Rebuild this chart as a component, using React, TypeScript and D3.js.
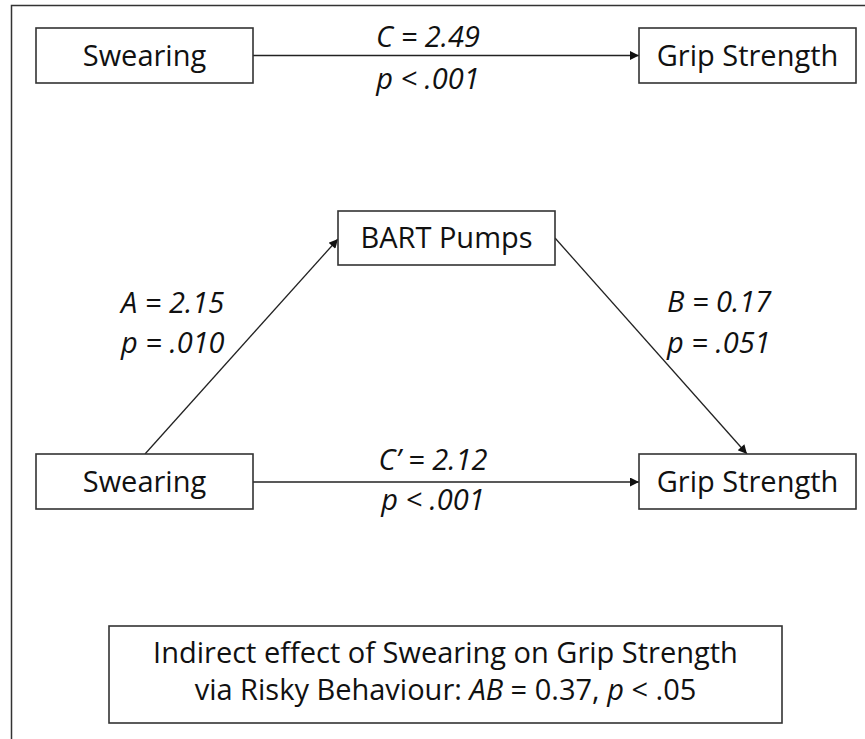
import React from "react";
import * as d3 from "d3";

// ---- data ----
const nodeNames = ["Swearing", "Grip Strength", "BART Pumps"];
const pathNames = ["C", "A", "B", "C\u2019"];
const pathCoefs = [2.49, 2.15, 0.17, 2.12];
const pathPValues = ["< .001", "= .010", "= .051", "< .001"];
const indirectText = ["Indirect effect of Swearing on Grip Strength", "via Risky Behaviour: "];
const indirectCoef = 0.37;
const indirectP = "< .05";

// ---- layout ----
const W = 865;
const H = 739;
const FONT = "'Open Sans', 'DejaVu Sans', sans-serif";
const FS = 29;
const CAP = 10; // half cap height offset

type Box = { x0: number; x1: number; y0: number; y1: number; name: number };
const boxes: Box[] = [
  { x0: 36, x1: 253, y0: 28, y1: 83, name: 0 },
  { x0: 639, x1: 856, y0: 28, y1: 83, name: 1 },
  { x0: 338, x1: 555, y0: 211, y1: 265, name: 2 },
  { x0: 36, x1: 253, y0: 454, y1: 509, name: 0 },
  { x0: 639, x1: 856, y0: 454, y1: 509, name: 1 },
];
const edges = [
  { p: 0, from: [253, 55.5], to: [639, 55.5] },
  { p: 1, from: [145, 454], to: [338, 239] },
  { p: 2, from: [555, 238], to: [747, 454] },
  { p: 3, from: [253, 482], to: [639, 482] },
];
const labels = [
  { p: 0, x: 428, y1: 47, y2: 89, anchor: "middle" },
  { p: 1, x: 121, y1: 313, y2: 353, anchor: "start" },
  { p: 2, x: 667, y1: 312, y2: 353, anchor: "start" },
  { p: 3, x: 433, y1: 470, y2: 510, anchor: "middle" },
];
const note = { x0: 109, x1: 782, y0: 626, y1: 723, y1t: 663, y2t: 700 };

const fmt = d3.format(".2f");
const line = d3.line();

export default function App() {
  return (
    <svg
      width={W}
      height={H}
      viewBox={`0 0 ${W} ${H}`}
      style={{ position: "absolute", left: 0, top: 0, background: "#fff" }}
      fontFamily={FONT}
    >
      <defs>
        <marker
          id="arrow"
          viewBox="0 0 10 10"
          refX={10}
          refY={5}
          markerWidth={11}
          markerHeight={9}
          markerUnits="userSpaceOnUse"
          orient="auto"
        >
          <path d="M0,0 L10,5 L0,10 Z" fill="#111" />
        </marker>
      </defs>
      <rect x={0} y={0} width={W} height={H} fill="#fff" />
      {/* outer frame */}
      <path
        d={line([[W + 2, 5.5], [11.5, 5.5], [11.5, H + 2]]) || ""}
        fill="none"
        stroke="#333"
        strokeWidth={1.5}
      />
      {edges.map((e, i) => (
        <path
          key={i}
          d={line([e.from as [number, number], e.to as [number, number]]) || ""}
          stroke="#222"
          strokeWidth={1.3}
          fill="none"
          markerEnd="url(#arrow)"
        />
      ))}
      {boxes.map((b, i) => (
        <g key={i}>
          <rect
            x={b.x0}
            y={b.y0}
            width={b.x1 - b.x0}
            height={b.y1 - b.y0}
            fill="#fff"
            stroke="#333"
            strokeWidth={1.6}
          />
          <text
            x={(b.x0 + b.x1) / 2}
            y={(b.y0 + b.y1) / 2 + CAP}
            textAnchor="middle"
            fontSize={FS}
            fill="#111"
          >
            {nodeNames[b.name]}
          </text>
        </g>
      ))}
      {labels.map((l, i) => (
        <g key={i} fontStyle="italic" fontSize={FS} fill="#111">
          <text x={l.x} y={l.y1} textAnchor={l.anchor as any}>
            {`${pathNames[l.p]} = ${fmt(pathCoefs[l.p])}`}
          </text>
          <text x={l.x} y={l.y2} textAnchor={l.anchor as any}>
            {`p ${pathPValues[l.p]}`}
          </text>
        </g>
      ))}
      <rect
        x={note.x0}
        y={note.y0}
        width={note.x1 - note.x0}
        height={note.y1 - note.y0}
        fill="#fff"
        stroke="#333"
        strokeWidth={1.6}
      />
      <text
        x={(note.x0 + note.x1) / 2}
        y={note.y1t}
        textAnchor="middle"
        fontSize={FS}
        fill="#111"
      >
        {indirectText[0]}
      </text>
      <text
        x={(note.x0 + note.x1) / 2}
        y={note.y2t}
        textAnchor="middle"
        fontSize={FS}
        fill="#111"
      >
        {indirectText[1]}
        <tspan fontStyle="italic">AB</tspan>
        {` = ${fmt(indirectCoef)}, `}
        <tspan fontStyle="italic">p</tspan>
        {` ${indirectP}`}
      </text>
    </svg>
  );
}
